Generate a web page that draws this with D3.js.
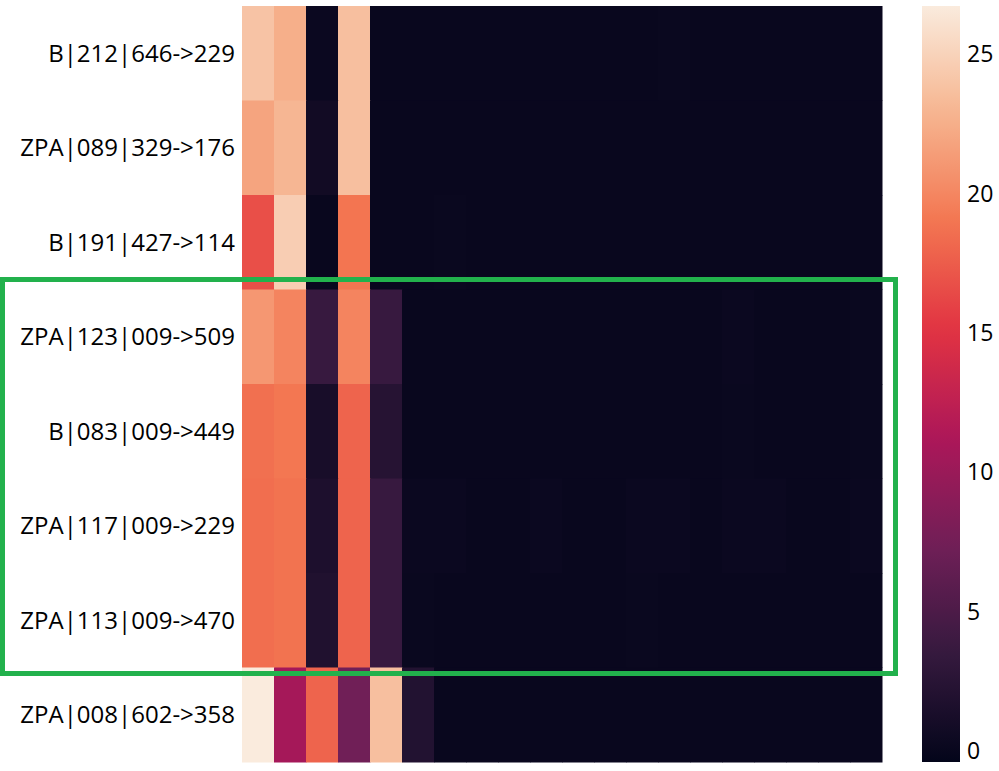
<!DOCTYPE html>
<html>
<head>
<meta charset="utf-8">
<script src="https://cdn.jsdelivr.net/npm/d3@7/dist/d3.min.js"></script>
<style>
  body { margin: 0; background: #fff; }
  text { font-family: "Open Sans", sans-serif; fill: #000; }
</style>
</head>
<body>
<div id="heat"></div>
<script>
// row labels, top to bottom
var rowLabels = [
  "B|212|646->229",
  "ZPA|089|329->176",
  "B|191|427->114",
  "ZPA|123|009->509",
  "B|083|009->449",
  "ZPA|117|009->229",
  "ZPA|113|009->470",
  "ZPA|008|602->358"
];

// one array per row, 20 columns each
var values = [
  [23.9, 22.5, 0.2, 23.6, 0.0, 0.0, 0.0, 0.0, 0.0, 0.0, 0.0, 0.0, 0.0, 0.15, 0.0, 0.0, 0.0, 0.0, 0.0, 0.0],
  [21.8, 23.0, 0.7, 23.6, 0.0, 0.0, 0.0, 0.0, 0.0, 0.0, 0.0, 0.0, 0.0, 0.0, 0.0, 0.0, 0.0, 0.0, 0.0, 0.0],
  [16.7, 24.6, 0.0, 18.9, 0.0, 0.0, 0.15, 0.0, 0.0, 0.0, 0.0, 0.0, 0.0, 0.0, 0.0, 0.0, 0.0, 0.0, 0.0, 0.0],
  [21.0, 19.8, 3.6, 19.8, 3.6, 0.05, 0.05, 0.0, 0.0, 0.0, 0.0, 0.0, 0.0, 0.0, 0.0, 0.2, 0.0, 0.0, 0.0, 0.15],
  [18.6, 19.0, 1.2, 17.9, 2.3, 0.05, 0.05, 0.0, 0.0, 0.0, 0.0, 0.0, 0.0, 0.0, 0.0, 0.1, 0.0, 0.0, 0.0, 0.15],
  [18.5, 18.8, 1.6, 17.9, 3.6, 0.2, 0.2, 0.05, 0.05, 0.2, 0.05, 0.05, 0.2, 0.2, 0.05, 0.2, 0.2, 0.05, 0.05, 0.2],
  [18.5, 18.8, 1.8, 17.9, 3.6, 0.1, 0.0, 0.0, 0.0, 0.0, 0.0, 0.0, 0.15, 0.0, 0.0, 0.0, 0.0, 0.0, 0.0, 0.0],
  [26.7, 10.7, 17.9, 7.3, 23.6, 2.0, 0.0, 0.0, 0.0, 0.0, 0.0, 0.0, 0.0, 0.0, 0.0, 0.0, 0.0, 0.0, 0.0, 0.0]
];

var colorTicks = [0, 5, 10, 15, 20, 25];
var colorMin = -0.43, colorMax = 26.7;

// seaborn "rocket" approximated by a few stops
var rocketStops = ["#03051a", "#35193e", "#701f57", "#ad1759", "#e13342", "#f37651", "#f6b48f", "#faebdd"];

runheat();

function runheat(){

    var width = 999, height = 771;
    var margin = {top: 6, left: 242};
    var heatW = 640, heatH = 756;

    var svg = d3.select("#heat")
        .append("svg")
        .attr("width", width)
        .attr("height", height);

    var cols = d3.range(values[0].length);

    var x = d3.scaleBand().domain(cols).range([margin.left, margin.left + heatW]);
    var y = d3.scaleBand().domain(rowLabels).range([margin.top, margin.top + heatH]);

    var rocket = d3.scaleLinear()
        .domain(d3.range(rocketStops.length).map(function(i){ return i / (rocketStops.length - 1); }))
        .range(rocketStops)
        .interpolate(d3.interpolateRgb);

    var color = function(v){ return rocket((v - colorMin) / (colorMax - colorMin)); };

    // flatten into cells
    var cells = [];
    values.forEach(function(row, i){
        row.forEach(function(v, j){
            cells.push({row: rowLabels[i], col: j, v: v});
        });
    });

    svg.append("g").selectAll("rect")
        .data(cells).enter().append("rect")
        .attr("x", function(d){ return x(d.col); })
        .attr("y", function(d){ return y(d.row); })
        .attr("width", x.bandwidth() + 0.5)
        .attr("height", y.bandwidth() + 0.5)
        .attr("fill", function(d){ return color(d.v); });

    // row labels, no tick marks
    var yAxis = d3.axisLeft(y).tickSize(0).tickPadding(7);
    var ya = svg.append("g")
        .attr("transform", "translate(" + margin.left + ",1)")
        .call(yAxis);
    ya.select(".domain").remove();
    ya.selectAll("text").style("font-size", "24px").style("font-family", "'Open Sans', sans-serif");

    // colorbar
    var cbX = 922, cbW = 38;
    var cbScale = d3.scaleLinear().domain([colorMin, colorMax]).range([margin.top + heatH, margin.top]);

    var defs = svg.append("defs");
    var grad = defs.append("linearGradient")
        .attr("id", "cbgrad")
        .attr("x1", 0).attr("y1", 1).attr("x2", 0).attr("y2", 0);
    grad.selectAll("stop")
        .data(d3.range(0, 1.0001, 0.02)).enter().append("stop")
        .attr("offset", function(d){ return d; })
        .attr("stop-color", function(d){ return rocket(d); });

    svg.append("rect")
        .attr("x", cbX).attr("y", margin.top)
        .attr("width", cbW).attr("height", heatH)
        .attr("fill", "url(#cbgrad)");

    var cbAxis = d3.axisRight(cbScale).tickValues(colorTicks).tickSize(0).tickPadding(7);
    var ca = svg.append("g")
        .attr("transform", "translate(" + (cbX + cbW) + ",1)")
        .call(cbAxis);
    ca.select(".domain").remove();
    ca.selectAll("text").style("font-size", "23px").style("font-family", "'Open Sans', sans-serif");

    // green highlight box around rows 4-7
    var boxTop = y(rowLabels[3]) - 10;
    var boxBottom = y(rowLabels[6]) + y.bandwidth() + 6;
    svg.append("rect")
        .attr("x", 2.5).attr("y", boxTop)
        .attr("width", 893).attr("height", boxBottom - boxTop)
        .attr("fill", "none")
        .attr("stroke", "#22b14c")
        .attr("stroke-width", 5);
}
</script>
</body>
</html>
